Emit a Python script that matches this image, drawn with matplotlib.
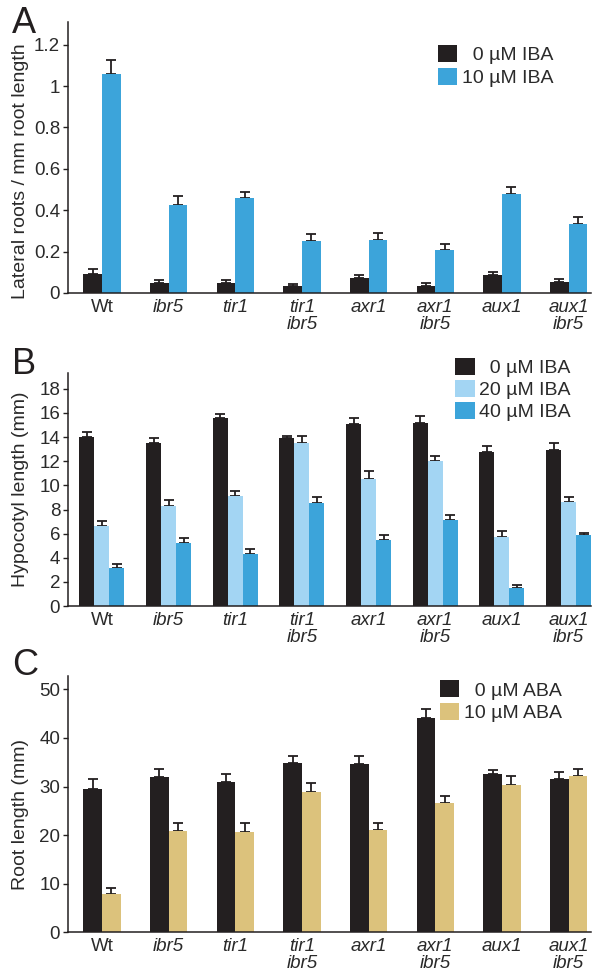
import matplotlib
matplotlib.use("Agg")
import matplotlib.pyplot as plt
import numpy as np

plt.rcParams['font.family'] = ['Liberation Sans', 'DejaVu Sans']

genotypes = ["Wt", "ibr5", "tir1", "tir1\nibr5", "axr1", "axr1\nibr5", "aux1", "aux1\nibr5"]

# Panel A: lateral roots / mm root length
a_labels = ["  0 µM IBA", "10 µM IBA"]
a_iba0 = [0.094, 0.050, 0.047, 0.032, 0.071, 0.036, 0.089, 0.052]
a_iba0_err = [0.023, 0.015, 0.018, 0.010, 0.015, 0.013, 0.013, 0.014]
a_iba10 = [1.058, 0.426, 0.460, 0.251, 0.254, 0.207, 0.478, 0.335]
a_iba10_err = [0.068, 0.041, 0.030, 0.033, 0.034, 0.030, 0.036, 0.030]
a_yticks = [0, 0.2, 0.4, 0.6, 0.8, 1.0, 1.2]
a_yticklabels = ["0", "0.2", "0.4", "0.6", "0.8", "1", "1.2"]

# Panel B: hypocotyl length (mm)
b_labels = ["  0 µM IBA", "20 µM IBA", "40 µM IBA"]
b_iba0 = [13.98, 13.48, 15.56, 13.89, 15.06, 15.20, 12.73, 12.95]
b_iba0_err = [0.41, 0.41, 0.39, 0.23, 0.53, 0.52, 0.53, 0.55]
b_iba20 = [6.63, 8.32, 9.15, 13.48, 10.57, 12.06, 5.71, 8.62]
b_iba20_err = [0.41, 0.47, 0.36, 0.64, 0.63, 0.39, 0.47, 0.45]
b_iba40 = [3.13, 5.21, 4.30, 8.57, 5.46, 7.15, 1.47, 5.85]
b_iba40_err = [0.34, 0.39, 0.44, 0.44, 0.45, 0.39, 0.30, 0.22]
b_yticks = [0, 2, 4, 6, 8, 10, 12, 14, 16, 18]

# Panel C: root length (mm)
c_labels = ["  0 µM ABA", "10 µM ABA"]
c_aba0 = [29.46, 31.94, 30.90, 34.82, 34.68, 44.20, 32.62, 31.60]
c_aba0_err = [2.1, 1.7, 1.6, 1.4, 1.7, 1.75, 0.7, 1.3]
c_aba10 = [7.90, 20.88, 20.67, 28.90, 21.00, 26.58, 30.36, 32.20]
c_aba10_err = [1.2, 1.6, 1.8, 1.9, 1.4, 1.45, 1.8, 1.4]
c_yticks = [0, 10, 20, 30, 40, 50]

BLACK = "#231f20"
BLUE = "#3ca4da"
LIGHT = "#a3d5f3"
TAN = "#dcc27c"
TXT = "#2a2a2a"

FS_TICK = 13.5
FS = 14

fig = plt.figure(figsize=(6, 9.76), dpi=100)
axA = fig.add_axes([0.1133, 0.6998, 0.872, 0.2777])
axB = fig.add_axes([0.1133, 0.379, 0.872, 0.2387])
axC = fig.add_axes([0.1133, 0.045, 0.872, 0.262])

x = np.arange(len(genotypes))


def draw(ax, series, errs, colors, labels, width, ylim, yticks, yticklabels, ylabel,
         leg_anchor, labelspacing, label_y):
    n = len(series)
    offsets = (np.arange(n) - (n - 1) / 2) * width
    handles = []
    for vals, err, col, lab, off in zip(series, errs, colors, labels, offsets):
        h = ax.bar(x + off, vals, width=width, color=col, label=lab, zorder=2)
        handles.append(h)
        ax.errorbar(x + off, vals, yerr=[np.zeros(len(err)), err], fmt='none',
                    ecolor=BLACK, elinewidth=1.3, capsize=3.3, capthick=1.3, zorder=1)
    ax.set_xlim(-0.51, 7.34)
    ax.set_ylim(*ylim)
    ax.set_yticks(yticks)
    ax.set_yticklabels(yticklabels, fontsize=FS_TICK)
    ax.set_xticks(x)
    ax.set_xticklabels(genotypes, fontsize=FS_TICK, linespacing=1.0)
    for t in ax.get_xticklabels():
        if t.get_text() != "Wt":
            t.set_style('italic')
    ax.tick_params(axis='x', length=0, pad=4, labelcolor=TXT)
    ax.tick_params(axis='y', length=3.6, width=1.0, pad=2, direction='out', colors=BLACK,
                   labelcolor=TXT)
    for s in ['top', 'right']:
        ax.spines[s].set_visible(False)
    for s in ['left', 'bottom']:
        ax.spines[s].set_linewidth(1.1)
        ax.spines[s].set_color(BLACK)
    ax.set_ylabel(ylabel, fontsize=FS, color=TXT)
    ax.yaxis.set_label_coords(-0.075, label_y)
    ax.legend(handles=handles, loc='upper left', bbox_to_anchor=leg_anchor,
              frameon=False, fontsize=FS, handlelength=1.0, handleheight=0.95,
              handletextpad=0.25, labelspacing=labelspacing, borderpad=0,
              borderaxespad=0, labelcolor=TXT)


draw(axA, [a_iba0, a_iba10], [a_iba0_err, a_iba10_err], [BLACK, BLUE], a_labels,
     0.28, (0, 1.31), a_yticks, a_yticklabels, "Lateral roots / mm root length",
     (0.707, 0.915), 0.2, 0.45)
draw(axB, [b_iba0, b_iba20, b_iba40], [b_iba0_err, b_iba20_err, b_iba40_err],
     [BLACK, LIGHT, BLUE], b_labels, 0.225, (0, 19.3), b_yticks,
     [str(v) for v in b_yticks], "Hypocotyl length (mm)", (0.74, 1.064), 0.15, 0.5)
draw(axC, [c_aba0, c_aba10], [c_aba0_err, c_aba10_err], [BLACK, TAN], c_labels,
     0.28, (0, 52.7), c_yticks, [str(v) for v in c_yticks], "Root length (mm)",
     (0.711, 0.984), 0.2, 0.46)

fig.text(0.02, 0.966, "A", fontsize=26, color=BLACK)
fig.text(0.02, 0.617, "B", fontsize=26, color=BLACK)
fig.text(0.02, 0.308, "C", fontsize=26, color=BLACK)

fig.savefig("out.png", dpi=100)
